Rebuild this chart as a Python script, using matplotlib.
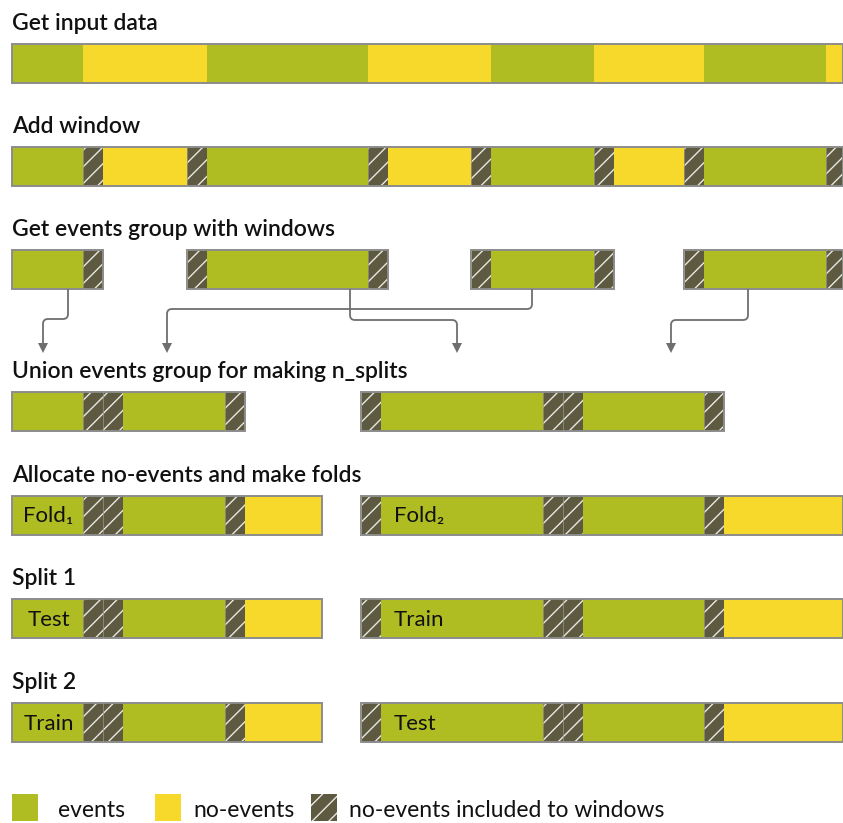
import matplotlib.pyplot as plt
from matplotlib.patches import Rectangle, PathPatch, Polygon
from matplotlib.path import Path

# colours
GREEN = '#afbd22'
YELLOW = '#f6d92a'
WIN = '#5d5a41'
BORDER = '#8c8c8c'
ARROW = '#6e6e6e'

# --- data: segment edges along the time axis and the kind of each segment
# e = events, n = no-events, w = no-events included to windows
input_edges = [12, 83, 207, 368, 491, 594, 704, 826, 843]
input_kinds = 'enenenen'

window_edges = [12, 83, 103, 187, 207, 368, 388, 471, 491, 594, 614, 684, 704, 826, 843]
window_kinds = 'ewnwewnwewnwew'

group_edges = [[12, 83, 103], [187, 207, 368, 388], [471, 491, 594, 614], [684, 704, 826, 843]]
group_kinds = ['ew', 'wew', 'wew', 'wew']

union_edges = [[12, 83, 103, 123, 225, 245], [361, 381, 543, 563, 583, 704, 724]]
union_kinds = ['ewwew', 'wewwew']

fold_edges = [[12, 83, 103, 123, 225, 245, 322], [361, 381, 543, 563, 583, 704, 724, 843]]
fold_kinds = ['ewwewn', 'wewwewn']

titles = ['Get input data', 'Add window', 'Get events group with windows',
          'Union events group for making n_splits', 'Allocate no-events and make folds',
          'Split 1', 'Split 2']
fold_labels = [['Fold\u2081', 'Fold\u2082'], ['Test', 'Train'], ['Train', 'Test']]

# arrows from event groups to the union row (x of source, y of bend, x of target)
arrow_src = [68, 350, 532, 748]
arrow_bend = [319, 320, 309, 320]
arrow_dst = [43, 457, 167, 671]

legend_labels = ['events', 'no-events', 'no-events included to windows']

# layout
row_tops = [44, 147, 250, 392, 496, 599, 703]
BAR_H = 39

plt.rcParams['font.family'] = ['Lato', 'DejaVu Sans']
plt.rcParams['hatch.linewidth'] = 1.0

fig = plt.figure(figsize=(8.43, 8.23), dpi=100)
ax = fig.add_axes([0, 0, 1, 1])
ax.set_xlim(0, 843)
ax.set_ylim(823, 0)
ax.axis('off')

fills = {'e': GREEN, 'n': YELLOW, 'w': WIN}
HATCH = '//'


def draw_bar(edges, kinds, top):
    for x0, x1, k in zip(edges[:-1], edges[1:], kinds):
        ax.add_patch(Rectangle((x0, top), x1 - x0, BAR_H, facecolor=fills[k],
                               edgecolor='none', lw=0))
        if k == 'w':
            ax.add_patch(Rectangle((x0, top), x1 - x0, BAR_H, facecolor='none',
                                   edgecolor='#e8e8e0', hatch=HATCH, lw=0))
            ax.plot([x0, x0], [top, top + BAR_H], color='#9a9a8a', lw=0.5)
    ax.add_patch(Rectangle((edges[0], top), edges[-1] - edges[0], BAR_H,
                           facecolor='none', edgecolor=BORDER, lw=1.4))


for top, title in zip(row_tops, titles):
    ax.text(12, top - 14, title, fontsize=16.5, fontweight='semibold',
            color='#111111', va='baseline', ha='left')

draw_bar(input_edges, input_kinds, row_tops[0])
draw_bar(window_edges, window_kinds, row_tops[1])
for e, k in zip(group_edges, group_kinds):
    draw_bar(e, k, row_tops[2])
for e, k in zip(union_edges, union_kinds):
    draw_bar(e, k, row_tops[3])
for top, labels in zip(row_tops[4:], fold_labels):
    for e, k in zip(fold_edges, fold_kinds):
        draw_bar(e, k, top)
    mid = top + BAR_H / 2 + 1
    ax.text((fold_edges[0][0] + fold_edges[0][1]) / 2 + 1, mid, labels[0], fontsize=16,
            color='#111111', ha='center', va='center')
    ax.text(fold_edges[1][1] + 13, mid, labels[1], fontsize=16,
            color='#111111', ha='left', va='center')

# arrows
y_start = row_tops[2] + BAR_H
tip = 353
r = 5
for xs, yb, xd in zip(arrow_src, arrow_bend, arrow_dst):
    s = 1 if xd > xs else -1
    verts = [(xs, y_start), (xs, yb - r), (xs, yb), (xs + s * r, yb),
             (xd - s * r, yb), (xd, yb), (xd, yb + r), (xd, tip - 9)]
    codes = [Path.MOVETO, Path.LINETO, Path.CURVE3, Path.CURVE3,
             Path.LINETO, Path.CURVE3, Path.CURVE3, Path.LINETO]
    ax.add_patch(PathPatch(Path(verts, codes), facecolor='none', edgecolor=ARROW, lw=1.3))
    ax.add_patch(Polygon([(xd - 5, tip - 10), (xd + 5, tip - 10), (xd, tip)],
                         closed=True, facecolor=ARROW, edgecolor='none'))

# legend
leg_x = [12, 155, 311]
leg_text_x = [58, 193, 349]
for k, lx, tx, lab in zip('enw', leg_x, leg_text_x, legend_labels):
    ax.add_patch(Rectangle((lx, 794), 26, 27, facecolor=fills[k], edgecolor='none'))
    if k == 'w':
        ax.add_patch(Rectangle((lx, 794), 26, 27, facecolor='none',
                               edgecolor='#e8e8e0', hatch=HATCH, lw=0))
    ax.text(tx, 817, lab, fontsize=16.5, color='#111111', ha='left', va='baseline')

fig.savefig('out.png', dpi=100)
